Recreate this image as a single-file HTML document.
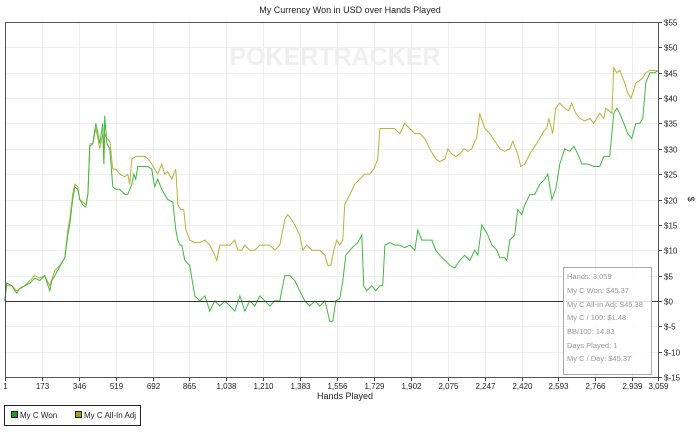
<!DOCTYPE html>
<html><head><meta charset="utf-8"><style>
body{margin:0;background:#fff;font-family:"Liberation Sans",sans-serif;}
svg{display:block}
</style></head><body>
<svg id="c" width="700" height="442" xmlns="http://www.w3.org/2000/svg" font-family="Liberation Sans, sans-serif">
<rect x="0" y="0" width="700" height="442" fill="#fff"/>
<text x="350" y="13" text-anchor="middle" font-size="9" fill="#222">My Currency Won in USD over Hands Played</text>
<g id="grid"></g>
<text x="335" y="65" text-anchor="middle" font-size="25" font-weight="bold" fill="#efefef">POKERTRACKER</text>
<g id="series"></g>
<g id="axes"></g>
<text x="345" y="399" text-anchor="middle" font-size="9" fill="#222">Hands Played</text>
<text transform="translate(688,199) rotate(90)" text-anchor="middle" font-size="9" fill="#222">$</text>
<g>
<rect x="563.5" y="267.5" width="88" height="107" fill="#fff" fill-opacity="0.85" stroke="#aaa"/>
<g font-size="7.5" fill="#999">
<text x="567" y="279">Hands: 3,059</text>
<text x="567" y="293">My C Won: $45.37</text>
<text x="567" y="307">My C All-In Adj: $45.38</text>
<text x="567" y="320">My C / 100: $1.48</text>
<text x="567" y="334">BB/100: 14.83</text>
<text x="567" y="348">Days Played: 1</text>
<text x="567" y="361">My C / Day: $45.37</text>
</g></g>
<g>
<rect x="4.5" y="405.5" width="136" height="20" fill="#fff" stroke="#222"/>
<g><rect x="11.5" y="411.5" width="6" height="6" fill="#1aa01a" stroke="#222"/><text x="20" y="418" font-size="8" fill="#222">My C Won</text></g>
<g><rect x="75.5" y="411.5" width="6" height="6" fill="#a8a010" stroke="#222"/><text x="84" y="418" font-size="8" fill="#222">My C All-In Adj</text></g>
</g>
</svg>
<script>
const xTicks=[1,173,346,519,692,865,1038,1210,1383,1556,1729,1902,2075,2247,2420,2593,2766,2939,3059];
const yTicks=[-15,-10,-5,0,5,10,15,20,25,30,35,40,45,50,55];
const wonHands=[0,9,33,56,70,94,117,140,164,187,211,220,234,248,267,281,295,304,318,328,342,351,365,379,389,398,412,426,436,445,459,464,468,478,492,506,520,539,562,576,595,604,613,623,642,670,688,702,716,735,763,787,801,810,820,829,843,866,890,913,937,960,983,1007,1030,1054,1077,1101,1124,1147,1171,1194,1218,1241,1264,1288,1311,1335,1358,1381,1405,1428,1452,1475,1499,1522,1536,1550,1569,1583,1597,1616,1639,1653,1672,1681,1695,1719,1737,1756,1770,1780,1803,1826,1850,1873,1897,1920,1934,1953,1981,2000,2018,2037,2061,2084,2107,2131,2154,2178,2201,2215,2234,2262,2281,2304,2318,2341,2351,2365,2388,2402,2421,2435,2459,2482,2505,2529,2543,2562,2580,2599,2622,2646,2665,2683,2702,2730,2758,2786,2805,2833,2852,2866,2880,2899,2917,2936,2955,2974,2988,3002,3021,3044,3058];
const wonValues=[0,3.5,3,1.5,2.5,3,3.5,4.5,4,5,2,4,5,6,7.5,8.5,13,15,20,22.5,22,20,19,18.5,21,30.5,31,35,33,31,35,27,36.5,31,30,22.5,22,22,21,21,23,25,24,26.5,26.5,26.5,26,22.5,24,22,20,19.5,14,12,11,11,8,7,1,0,1,-2,0,-1,0,-1,-2,1,-2,0,-1,1,0,-1,0,0,5,5,4,2,0,-1,0,-1,0,-4,-4,0,0.5,4,9,10,11,11.5,13,3,2,3,2,3,3,11,11.5,11,11,10.5,11,10,14,12,12,12,10,9,8,7,6.5,8,9,8,10,9,15,13,11,10,8.5,8.5,8,12,13,18,17,19,21,21,23,24,25,20,22,27,30,29.5,30.5,29,27,27,26.5,26.5,28.5,28.5,37,38,37,35,33,32,35,35,36,43,45,45,45.4];
const adjHands=[0,9,33,56,94,140,164,187,211,234,258,281,295,304,318,328,342,351,365,379,389,398,412,426,436,445,459,464,468,478,492,506,520,539,562,576,585,595,613,632,656,670,688,702,716,735,749,763,782,801,810,824,838,848,866,890,913,937,960,983,993,1007,1030,1054,1077,1091,1110,1124,1147,1171,1194,1218,1241,1264,1288,1311,1325,1344,1358,1381,1396,1414,1438,1456,1475,1499,1513,1527,1541,1555,1569,1583,1592,1616,1639,1662,1686,1709,1728,1747,1756,1780,1803,1826,1850,1873,1897,1920,1944,1967,1990,2018,2037,2061,2075,2093,2112,2131,2150,2168,2187,2201,2210,2224,2248,2271,2295,2318,2341,2365,2379,2402,2416,2435,2459,2482,2505,2524,2538,2548,2566,2580,2599,2622,2641,2655,2674,2693,2716,2740,2758,2772,2786,2805,2814,2843,2852,2866,2880,2903,2917,2932,2941,2955,2974,2988,3002,3021,3058];
const adjValues=[0,3,3,2,3,5,4.5,5,3,6,7,8.5,14,16,21,23,22.5,20,19.5,19,21,31,31,34,32,30,33,27,33,32,31.5,26,26,25,24.5,25,23,28,28.5,28.5,28.5,28,27,26,25,27,25,25.5,24,26,19,18,18,14,12,11.5,11.5,12,11,9,8,11,11,11,12,10,10,11,10,10,11,11,11,10,11,16,17,16,15,13,10,11,10,10,10,9,7,7,10,12,11,12,19,21,23,24,25,25,26,28,34,34,34,34,33,35,34,33,33,32,30,28,27.5,28,30,29,28.5,29,30,29.5,30,31.5,32,37,34,33,31.5,30,29.5,30,31.5,29,26.5,27,29,30.5,32,33.5,34,36,33,38,39,38,37.5,39,37,36,35.5,36,35,36,37,36,38,37,46,45,45.5,43,41,40,41,43,43.5,44,45,45.5,45.4];

const L=5,R=658,T=22,B=377,xMin=1,xMax=3059,yMin=-15,yMax=55;
const xs=h=>L+(h-xMin)/(xMax-xMin)*(R-L);
const ys=v=>B-(v-yMin)/(yMax-yMin)*(B-T);
const NS='http://www.w3.org/2000/svg';
function mk(tag,attrs,parent){const e=document.createElementNS(NS,tag);for(const k in attrs)e.setAttribute(k,attrs[k]);parent.appendChild(e);return e;}
const grid=document.getElementById('grid'),axes=document.getElementById('axes'),series=document.getElementById('series');
xTicks.forEach(t=>{const x=Math.round(xs(t))+0.5;
 const g=mk('line',{x1:x,x2:x,y1:T,y2:B,stroke:'#eeeeee'},grid);
 
 mk('line',{x1:x,x2:x,y1:B,y2:B+4,stroke:'#444'},axes);
 const tx=mk('text',{x:x,y:B+12,'text-anchor':'middle','font-size':'8',fill:'#222'},axes);
 tx.textContent=t.toLocaleString('en-US');
 });
yTicks.forEach(t=>{const y=Math.round(ys(t))+0.5;
 const g=mk('line',{x1:L,x2:R,y1:y,y2:y,stroke:'#eeeeee'},grid);
 
 mk('line',{x1:R,x2:R+4,y1:y,y2:y,stroke:'#444'},axes);
 const tx=mk('text',{x:R+6,y:y+3,'font-size':'8',fill:'#222'},axes);
 tx.textContent='$'+t;
 });
const fr=mk('rect',{x:L+0.5,y:T+0.5,width:R-L,height:B-T,fill:'none',stroke:'#555'},axes);

const z=mk('line',{x1:L,x2:R,y1:Math.round(ys(0))+0.5,y2:Math.round(ys(0))+0.5,stroke:'#333'},axes);

function draw(h,v,color,name){let d='';h.forEach((hh,i)=>{d+=(i?'L':'M')+xs(hh).toFixed(1)+','+ys(v[i]).toFixed(1);});
 const p=mk('path',{d:d,fill:'none',stroke:color,'stroke-width':'1'},series);
 }
draw(adjHands,adjValues,'#b8b43a','series-all-in-adj');
draw(wonHands,wonValues,'#3fba3f','series-won');
</script>
</body></html>
